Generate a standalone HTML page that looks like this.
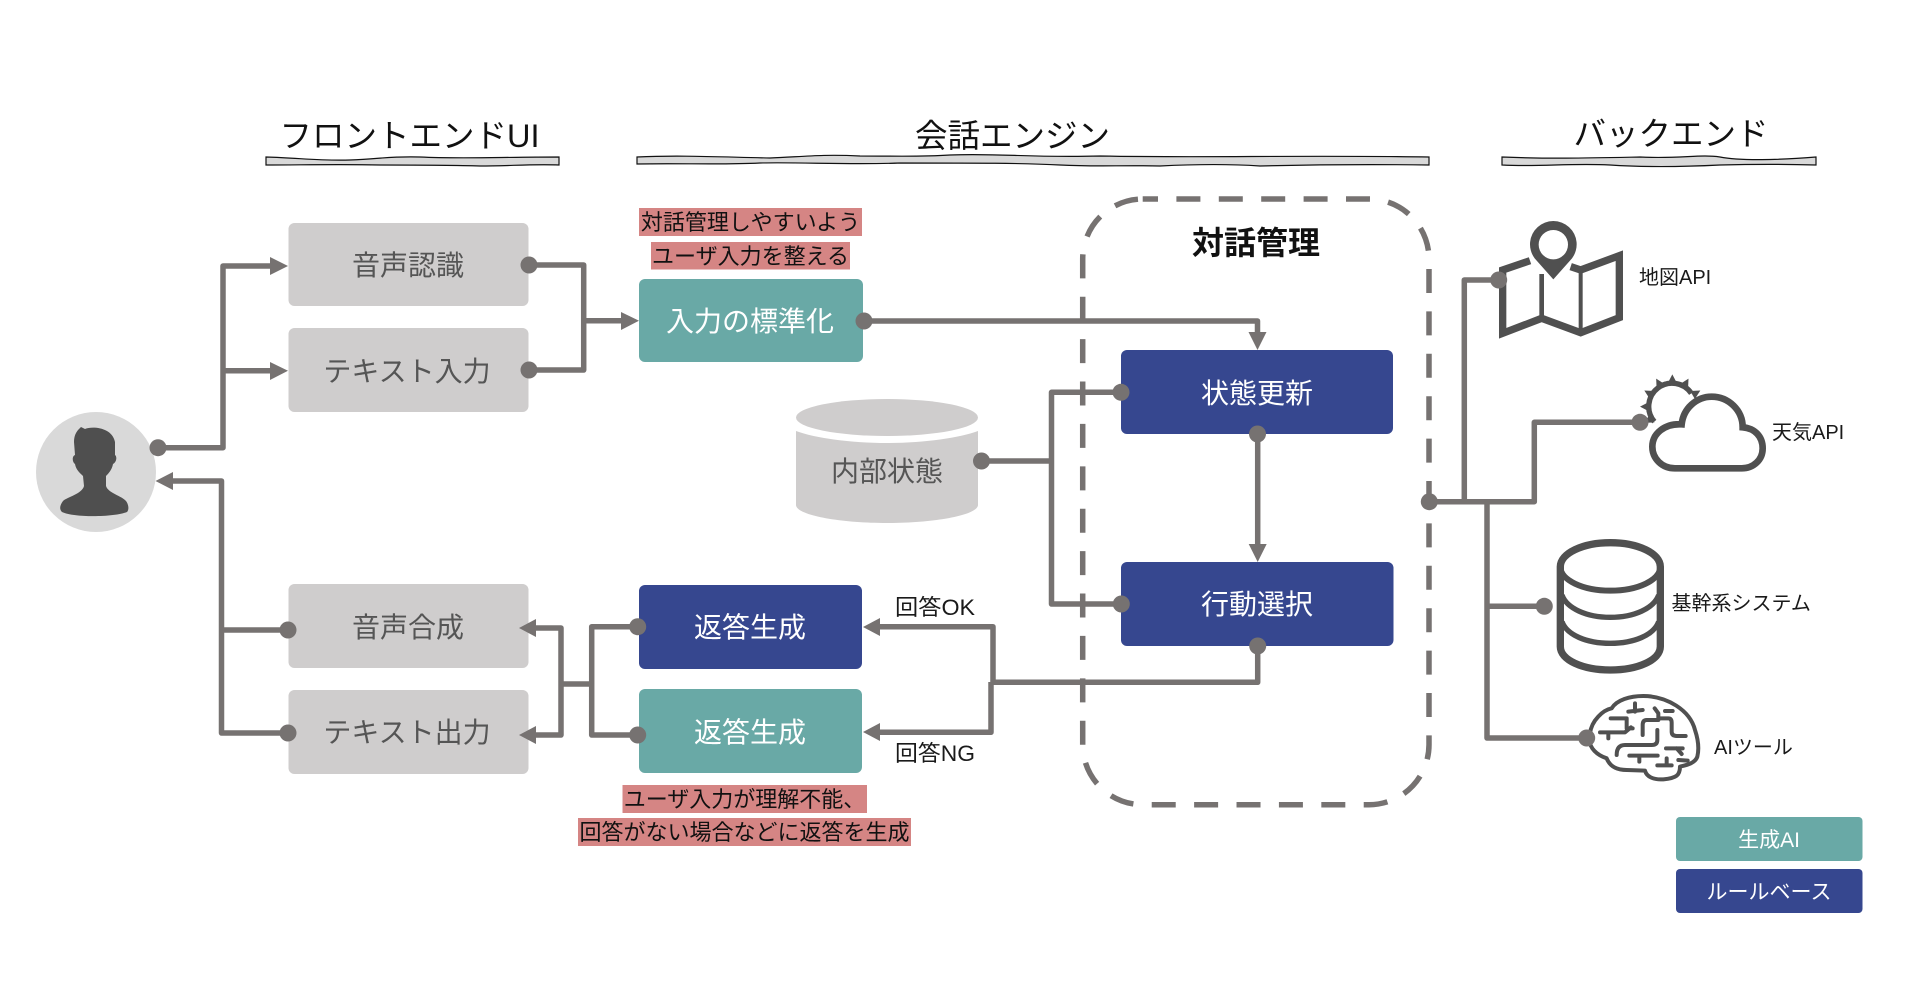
<!DOCTYPE html>
<html lang="ja">
<head>
<meta charset="utf-8">
<style>
html,body{margin:0;padding:0;background:#fff;width:1920px;height:988px;overflow:hidden}
svg{display:block}
text{font-family:"Liberation Sans","Noto Sans CJK JP",sans-serif}
.t{font-size:28px;text-anchor:middle}
.g{fill:#555}
.w{fill:#fff}
.h{font-size:32.5px;fill:#111;text-anchor:middle}
.r{font-size:22px;fill:#111;text-anchor:middle}
.s{font-size:20px;fill:#1a1a1a}
.c{fill:none;stroke:#767271;stroke-width:5.5;stroke-linejoin:round}
.d{fill:#767271}
.i{fill:none;stroke:#505050;stroke-linecap:round;stroke-linejoin:round}
</style>
</head>
<body>
<svg width="1920" height="988" viewBox="0 0 1920 988" xmlns="http://www.w3.org/2000/svg">
<rect width="1920" height="988" fill="#fff"/>

<!-- section titles -->
<text class="h" x="409.5" y="147" textLength="260" lengthAdjust="spacing">フロントエンドUI</text>
<text class="h" x="1012.5" y="147" text-anchor="middle">会話エンジン</text>
<text class="h" x="1671" y="145">バックエンド</text>
<path d="M266 157 C300 158 320 161 350 160 C380 159 390 156 420 157 C460 159 500 157 559 157 V165 C530 164 510 166 480 166 C450 165 420 165 380 165 C340 164 300 165 266 165 Z" fill="#d9d9d9" stroke="#111" stroke-width="1.2"/>
<path d="M637 157 C680 155 720 157 770 158 C800 157 820 154 860 156 C900 156 920 157 950 155 C1000 153 1030 158 1100 156 C1200 158 1300 155 1429 157 V165 C1350 164 1300 165 1260 166 C1230 164 1200 164 1160 166 C1120 165 1100 167 1060 165 C1020 163 980 163 900 163 C850 165 800 162 760 163 C720 165 680 163 637 164 Z" fill="#d9d9d9" stroke="#111" stroke-width="1.2"/>
<path d="M1502 157 C1550 159 1590 158 1640 157 C1680 159 1700 154 1720 157 C1740 161 1780 160 1816 157 V165 C1780 164 1760 164 1720 165 C1680 167 1640 167 1610 165 C1570 163 1540 167 1502 165 Z" fill="#d9d9d9" stroke="#111" stroke-width="1.2"/>

<!-- dashed frame -->
<path d="M1142.7 199 H1369 A60 60 0 0 1 1429 259 V744.7 A60 60 0 0 1 1369 804.7 H1142.7 A60 60 0 0 1 1082.7 744.7 V259 A60 60 0 0 1 1142.7 199" fill="none" stroke="#767271" stroke-width="5.5" stroke-dasharray="24 18.4" stroke-dashoffset="8.7"/>
<text x="1256" y="254" font-size="32" font-weight="700" fill="#111" text-anchor="middle">対話管理</text>

<!-- user -->
<circle cx="96" cy="472" r="60" fill="#d9d9d9"/>
<path d="M79 429 L81 427 L85 429 C92 426 112 427 115 442 L115 455 C117 456 117 462 113 464 C112 470 108 474 106 476 L106 486 C108 493 122 496 126 501 C129 505 129 510 127 512 C115 517 75 518 62 512 C59 509 60 505 63 501 C67 497 82 494 84 486 L83 476 C80 473 76 470 75 464 C72 462 72 456 75 455 L74 442 C74 436 76 432 79 429 Z" fill="#4f4f4f"/>

<!-- boxes -->
<g fill="#cfcdcd">
<rect x="288.5" y="223" width="240" height="83" rx="6"/>
<rect x="288.5" y="328" width="240" height="84" rx="6"/>
<rect x="288.5" y="584" width="240" height="84" rx="6"/>
<rect x="288.5" y="690" width="240" height="84" rx="6"/>
</g>
<rect x="639" y="279" width="224" height="83" rx="6" fill="#69a9a6"/>
<rect x="639" y="689" width="223" height="84" rx="6" fill="#69a9a6"/>
<rect x="639" y="585" width="223" height="84" rx="6" fill="#36478f"/>
<rect x="1121" y="350" width="272" height="84" rx="6" fill="#36478f"/>
<rect x="1121" y="562" width="272.5" height="84" rx="6" fill="#36478f"/>
<rect x="1676" y="817" width="186.5" height="44" rx="4" fill="#69a9a6"/>
<rect x="1676" y="869" width="186.5" height="44" rx="4" fill="#36478f"/>

<!-- cylinder -->
<ellipse cx="887" cy="417.5" rx="91" ry="18.5" fill="#cfcdcd"/>
<path d="M796 431 C815 438 850 443 887 443 C924 443 959 438 978 431 V505 C978 515 935 523 887 523 C839 523 796 515 796 505 Z" fill="#cfcdcd"/>

<!-- box labels -->
<text class="t g" x="408" y="275">音声認識</text>
<text class="t g" x="407" y="381">テキスト入力</text>
<text class="t g" x="408" y="637">音声合成</text>
<text class="t g" x="407" y="742">テキスト出力</text>
<text class="t w" x="750" y="331">入力の標準化</text>
<text class="t w" x="750" y="637">返答生成</text>
<text class="t w" x="750" y="742">返答生成</text>
<text class="t w" x="1257" y="403">状態更新</text>
<text class="t w" x="1257" y="614">行動選択</text>
<text class="t g" x="887" y="481">内部状態</text>
<text x="1769" y="847" font-size="21" fill="#fff" text-anchor="middle">生成AI</text>
<text x="1769" y="899" font-size="21" fill="#fff" text-anchor="middle">ルールベース</text>

<!-- red notes -->
<g fill="#d58584">
<rect x="639" y="208" width="223" height="28"/>
<rect x="651" y="242" width="199" height="27.5"/>
<rect x="622.5" y="785" width="244.5" height="28"/>
<rect x="578" y="818" width="333" height="28"/>
</g>
<text class="r" x="750.5" y="230">対話管理しやすいよう</text>
<text class="r" x="750.5" y="264">ユーザ入力を整える</text>
<text class="r" x="744.5" y="807">ユーザ入力が理解不能、</text>
<text class="r" x="744.5" y="840">回答がない場合などに返答を生成</text>

<!-- connectors -->
<path class="c" d="M158 447.7 H223 V266 H272"/>
<path class="c" d="M223 370.7 H272"/>
<path class="c" d="M529 265 H583.7 V370 H529"/>
<path class="c" d="M583.7 320.7 H623"/>
<path class="c" d="M864 321 H1257.5 V335"/>
<path class="c" d="M1121 392.3 H1051.5 V604 H1121"/>
<path class="c" d="M981.5 461 H1051.5"/>
<path class="c" d="M1257.7 434 V546"/>
<path class="c" d="M1257.7 646 V682.3 H991"/>
<path class="c" d="M878 626.7 H993 V682 M991 682 V732.3 H878"/>
<path class="c" d="M637.7 626.7 H591.7 V735 H637.7"/>
<path class="c" d="M591.7 684 H561"/>
<path class="c" d="M534 628 H561 V735 H534"/>
<path class="c" d="M171 481 H221.5 V733 H288"/>
<path class="c" d="M221.5 630 H288"/>
<path class="c" d="M1429 501.7 H1534.3 V422.3 H1640"/>
<path class="c" d="M1464.3 501.7 V280 H1499"/>
<path class="c" d="M1487 501.7 V738 H1587"/>
<path class="c" d="M1487 606.3 H1544"/>

<!-- arrowheads -->
<g class="d">
<polygon points="288,266 270,257 270,275"/>
<polygon points="288,370.7 270,362 270,380"/>
<polygon points="639,320.7 621,312 621,330"/>
<polygon points="1257.5,350 1248.5,332 1266.5,332"/>
<polygon points="1257.7,562 1248.7,544 1266.7,544"/>
<polygon points="155.5,481 173,472 173,490"/>
<polygon points="519,628 536,619 536,637"/>
<polygon points="519,735 536,726 536,744"/>
<polygon points="863,627 880,618 880,636"/>
<polygon points="863,732 880,723 880,741"/>
</g>

<!-- dots -->
<g class="d">
<circle cx="158" cy="447.7" r="8.5"/>
<circle cx="529" cy="265" r="8.5"/>
<circle cx="529" cy="370" r="8.5"/>
<circle cx="864" cy="321" r="8.5"/>
<circle cx="981.5" cy="461" r="8.5"/>
<circle cx="1121" cy="392.3" r="8.5"/>
<circle cx="1257.5" cy="434" r="8.5"/>
<circle cx="1121.3" cy="604" r="8.5"/>
<circle cx="1257.7" cy="646" r="8.5"/>
<circle cx="288" cy="630" r="8.5"/>
<circle cx="288" cy="733" r="8.5"/>
<circle cx="637.7" cy="626.7" r="8.5"/>
<circle cx="637.7" cy="735" r="8.5"/>
<circle cx="1429.3" cy="501.7" r="8.5"/>
</g>

<text x="895" y="615" font-size="22" fill="#1a1a1a" textLength="80" lengthAdjust="spacingAndGlyphs">回答OK</text>
<text x="895" y="761" font-size="22" fill="#1a1a1a" textLength="80" lengthAdjust="spacingAndGlyphs">回答NG</text>

<!-- backend icons (crop coords at 1/3) -->
<g transform="translate(1420 90) scale(.33333)">
 <path d="M330 512 L248 540 V730 L365 685 L482 728 L598 683 V497 L482 540 L452 530" fill="none" stroke="#505050" stroke-width="22"/>
 <path d="M365 552 V685" stroke="#505050" stroke-width="14"/>
 <path d="M482 540 V728" stroke="#505050" stroke-width="12"/>
 <path d="M400 568 L344 505 A70 70 0 1 1 456 505 Z" fill="#505050" stroke="#fff" stroke-width="16" paint-order="stroke"/>
 <circle cx="400" cy="464" r="44" fill="#fff"/>

 <g fill="#505050">
  <polygon points="743,880 757,853 771,880" transform="rotate(-120 757 950)"/>
  <polygon points="743,880 757,853 771,880" transform="rotate(-90 757 950)"/>
  <polygon points="743,880 757,853 771,880" transform="rotate(-60 757 950)"/>
  <polygon points="743,880 757,853 771,880" transform="rotate(-30 757 950)"/>
  <polygon points="743,880 757,853 771,880"/>
  <polygon points="743,880 757,853 771,880" transform="rotate(30 757 950)"/>
  <polygon points="743,880 757,853 771,880" transform="rotate(60 757 950)"/>
 </g>
 <path d="M703 995 A70 70 0 1 1 814 910" fill="none" stroke="#505050" stroke-width="16"/>
 <path d="M765 1135 C725 1135 697 1105 697 1070 C697 1030 735 1000 785 1003 C790 955 830 920 875 920 C925 920 968 960 968 1012 C1005 1015 1028 1040 1028 1075 C1028 1110 1000 1135 965 1135 Z" fill="#fff" stroke="#505050" stroke-width="20"/>
</g>
<g transform="translate(1420 500) scale(.33333)">
 <path d="M421 200 C421 160 488 128 571 128 C654 128 721 160 721 200 V440 C721 480 654 510 571 510 C488 510 421 480 421 440 Z" fill="#fff" stroke="#505050" stroke-width="22"/>
 <path d="M421 200 C421 240 488 272 571 272 C654 272 721 240 721 200" fill="none" stroke="#505050" stroke-width="18"/>
 <path d="M426 285 C440 325 500 352 571 352 C642 352 702 325 716 285" fill="none" stroke="#505050" stroke-width="16"/>
 <path d="M426 365 C440 405 500 430 571 430 C642 430 702 405 716 365" fill="none" stroke="#505050" stroke-width="16"/>

 <path class="i" stroke-width="12" d="M510 700 C515 660 550 630 575 625 C590 600 630 588 670 588 C740 588 810 630 825 690 C835 720 838 745 832 770 C825 790 800 795 780 800 C780 825 770 835 730 838 C700 840 680 830 675 812 L620 810 C590 810 570 800 560 775 C530 765 510 745 508 720 Z"/>
 <path class="i" stroke-width="12" d="M540 697 H615 L633 682 M565 697 V715 M572 655 H620 V685 H638 M625 635 L668 630 M645 610 V635 M668 705 V675 Q668 660 680 660 H715 V640 L704 625 M715 655 H745 Q755 655 755 668 V695 Q755 708 770 708 H797 M735 633 H758 M712 690 V720 Q712 735 695 735 H615 Q590 735 590 765 M738 745 H788 M770 745 L785 762 M628 767 H713 M658 767 V785 M712 796 H755 M740 775 V796 M775 780 L803 782"/>
</g>
<!-- backend dots over icons -->
<g class="d">
<circle cx="1498.7" cy="280" r="8.5"/>
<circle cx="1640" cy="422.3" r="8.5"/>
<circle cx="1544.3" cy="606.3" r="8.5"/>
<circle cx="1586.7" cy="738" r="8.5"/>
</g>
<text class="s" x="1639" y="284">地図API</text>
<text class="s" x="1772" y="439">天気API</text>
<text class="s" x="1671.5" y="610">基幹系システム</text>
<text class="s" x="1714" y="754">AIツール</text>
</svg>
</body>
</html>
